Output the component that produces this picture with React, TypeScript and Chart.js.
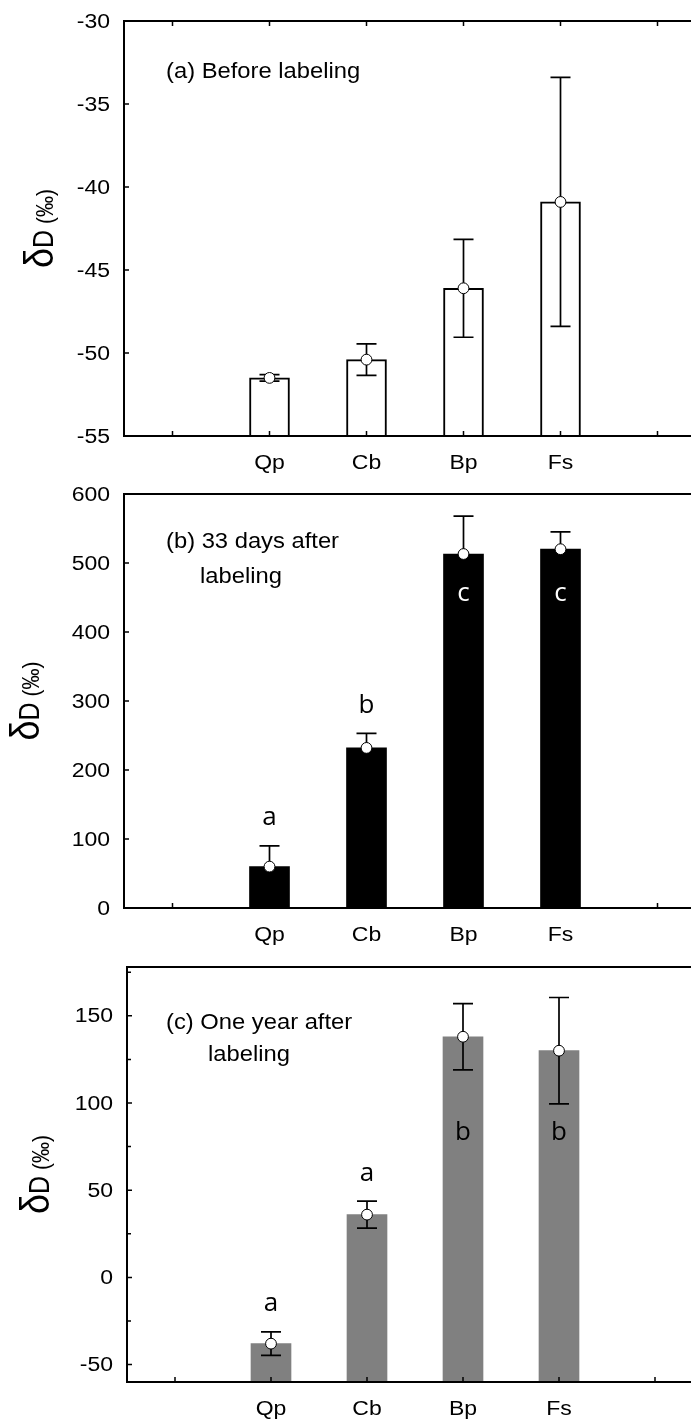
import React, { useEffect, useRef } from 'react';
import { Chart, registerables } from 'chart.js';

Chart.register(...registerables);

// ---------- data ----------
const categories = ['', 'Qp', 'Cb', 'Bp', 'Fs', ''];

const beforeMeans = [null, -51.5, -50.4, -46.1, -40.9, null];
const beforeErr = [null, 0.2, 0.95, 2.95, 7.5, null];
const beforeLetters = ['', '', '', '', '', ''];

const day33Means = [null, 60, 232, 513, 520, null];
const day33Err = [null, 30, 21, 55, 25, null];
const day33Letters = ['', 'a', 'b', 'c', 'c', ''];

const yearMeans = [null, -38, 36, 138, 130, null];
const yearErr = [null, 6.7, 7.7, 19, 30.5, null];
const yearLetters = ['', 'a', 'a', 'b', 'b', ''];

const titleA = ['(a) Before labeling'];
const titleB = ['(b) 33 days after', 'labeling'];
const titleC = ['(c) One year after', 'labeling'];

// ---------- styling ----------
const SANS = '"Liberation Sans", Arial, sans-serif';
const LETTER_FONT = '"Open Sans", sans-serif';
const STRETCH = 1.15;
const CANVAS_W = 698;

type Panel = {
  means: (number | null)[];
  errs: (number | null)[];
  letters: string[];
  title: string[];
  titleOffsets: [number, number][];
  min: number;
  max: number;
  step: number;
  minor?: number;
  fill: string;
  borderWidth: number;
  upperOnly: boolean;
  topTicks: boolean;
  insideAbove?: number;
  insideY?: number;
  absTop: number;
  chartTop: number;
  chartBottom: number;
  yWidth: number;
  slot: number;
  yTitleX: number;
};

const panels: Panel[] = [
  {
    means: beforeMeans, errs: beforeErr, letters: beforeLetters, title: titleA,
    titleOffsets: [[42, 51]],
    min: -55, max: -30, step: 5, fill: '#ffffff', borderWidth: 2, upperOnly: false, topTicks: true,
    absTop: 0, chartTop: 13, chartBottom: 428, yWidth: 116, slot: 97, yTitleX: 45,
  },
  {
    means: day33Means, errs: day33Err, letters: day33Letters, title: titleB,
    titleOffsets: [[42, 48], [76, 83]],
    min: 0, max: 600, step: 100, fill: '#000000', borderWidth: 0, upperOnly: true, topTicks: false,
    insideAbove: 400, insideY: 456,
    absTop: 468, chartTop: 18, chartBottom: 432, yWidth: 116, slot: 97, yTitleX: 31,
  },
  {
    means: yearMeans, errs: yearErr, letters: yearLetters, title: titleC,
    titleOffsets: [[39, 56], [81, 88]],
    min: -60, max: 178, step: 50, minor: 25, fill: '#808080', borderWidth: 0, upperOnly: false, topTicks: false,
    insideAbove: 100, insideY: 83,
    absTop: 940, chartTop: 19, chartBottom: 434, yWidth: 119, slot: 96, yTitleX: 41,
  },
];

function drawText(
  ctx: CanvasRenderingContext2D, text: string, x: number, y: number, font: string,
  align: CanvasTextAlign, baseline: CanvasTextBaseline, sx: number, color = '#000'
) {
  ctx.save();
  ctx.font = font;
  ctx.fillStyle = color;
  ctx.textAlign = align;
  ctx.textBaseline = baseline;
  ctx.translate(x, y);
  ctx.scale(sx, 1);
  ctx.fillText(text, 0, 0);
  ctx.restore();
}

function makePlugin(p: Panel) {
  return {
    id: 'panelDecor',
    afterDatasetsDraw(chart: any) {
      const ctx: CanvasRenderingContext2D = chart.ctx;
      const xs = chart.scales.x;
      const ys = chart.scales.y;
      ctx.save();
      p.means.forEach((m, i) => {
        if (m === null || m === undefined) return;
        const e = p.errs[i] ?? 0;
        const x = xs.getPixelForValue(i);
        const yM = ys.getPixelForValue(m);
        const yHi = ys.getPixelForValue(m + e);
        const yLo = ys.getPixelForValue(p.upperOnly ? m : m - e);
        ctx.strokeStyle = '#000';
        ctx.lineWidth = 1.7;
        ctx.beginPath();
        ctx.moveTo(x, yHi); ctx.lineTo(x, yLo);
        ctx.moveTo(x - 10, yHi); ctx.lineTo(x + 10, yHi);
        if (!p.upperOnly) { ctx.moveTo(x - 10, yLo); ctx.lineTo(x + 10, yLo); }
        ctx.stroke();
        ctx.beginPath();
        ctx.arc(x, yM, 5.4, 0, Math.PI * 2);
        ctx.fillStyle = '#fff';
        ctx.fill();
        ctx.lineWidth = 1;
        ctx.stroke();
        const letter = p.letters[i];
        if (letter) {
          const inside = p.insideAbove !== undefined && m > p.insideAbove;
          if (inside) {
            drawText(ctx, letter, x, ys.getPixelForValue(p.insideY as number), `26px ${LETTER_FONT}`, 'center', 'middle', 1,
              p.fill === '#000000' ? '#fff' : '#000');
          } else {
            drawText(ctx, letter, x, yHi - 28, `26px ${LETTER_FONT}`, 'center', 'middle', 1);
          }
        }
      });
      ctx.restore();
    },
    afterDraw(chart: any) {
      const ctx: CanvasRenderingContext2D = chart.ctx;
      const { left, right, top, bottom } = chart.chartArea;
      const xs = chart.scales.x;
      const ys = chart.scales.y;
      ctx.save();
      ctx.strokeStyle = '#000';
      ctx.lineWidth = 2;
      ctx.beginPath();
      ctx.moveTo(left, top); ctx.lineTo(right, top);
      ctx.moveTo(left, top - 1); ctx.lineTo(left, bottom + 1);
      ctx.moveTo(left - 1, bottom); ctx.lineTo(right, bottom);
      ctx.moveTo(right, top); ctx.lineTo(right, bottom);
      ctx.stroke();
      ctx.lineWidth = 1.5;
      ctx.beginPath();
      // x ticks (inward)
      xs.ticks.forEach((_t: any, i: number) => {
        const x = xs.getPixelForTick(i);
        ctx.moveTo(x, bottom); ctx.lineTo(x, bottom - 5);
        if (p.topTicks) { ctx.moveTo(x, top); ctx.lineTo(x, top + 5); }
      });
      // y ticks (inward)
      ys.ticks.forEach((t: any) => {
        const y = ys.getPixelForValue(t.value);
        ctx.moveTo(left, y); ctx.lineTo(left + 5, y);
      });
      if (p.minor) {
        for (let v = Math.ceil(p.min / p.minor) * p.minor; v <= p.max; v += p.minor) {
          if (Math.abs(v / p.step - Math.round(v / p.step)) < 1e-6) continue;
          const y = ys.getPixelForValue(v);
          ctx.moveTo(left, y); ctx.lineTo(left + 4, y);
        }
      }
      ctx.stroke();
      // tick labels
      ys.ticks.forEach((t: any) => {
        drawText(ctx, String(t.value), left - 14, ys.getPixelForValue(t.value) + 1, `20px ${SANS}`, 'right', 'middle', STRETCH);
      });
      xs.ticks.forEach((_t: any, i: number) => {
        const lab = categories[i];
        if (lab) drawText(ctx, lab, xs.getPixelForTick(i), bottom + 27, `20px ${SANS}`, 'center', 'middle', STRETCH);
      });
      // panel title
      p.title.forEach((line, k) => {
        const [dx, dy] = p.titleOffsets[k];
        drawText(ctx, line, left + dx, top + dy, `22px ${SANS}`, 'left', 'middle', 1.08);
      });
      // y-axis title  δD (‰)
      const cy = (top + bottom) / 2;
      ctx.translate(p.yTitleX, cy);
      ctx.rotate(-Math.PI / 2);
      ctx.scale(1, 1.15);
      ctx.fillStyle = '#000';
      ctx.textBaseline = 'alphabetic';
      ctx.textAlign = 'left';
      const parts: [string, string][] = [['δ', `36px ${SANS}`], ['D', `25px ${SANS}`], [' (‰)', `21px ${SANS}`]];
      let total = 0;
      parts.forEach(([s, f]) => { ctx.font = f; total += ctx.measureText(s).width; });
      let xPos = -total / 2;
      parts.forEach(([s, f]) => { ctx.font = f; ctx.fillText(s, xPos, 0); xPos += ctx.measureText(s).width; });
      ctx.restore();
    },
  };
}

function PanelChart({ p }: { p: Panel }) {
  const ref = useRef<HTMLCanvasElement | null>(null);
  const height = p.chartBottom + 40;
  useEffect(() => {
    if (!ref.current) return;
    const rightPad = CANVAS_W - p.yWidth - p.slot * categories.length;
    const chart = new Chart(ref.current, {
      type: 'bar',
      data: {
        labels: categories,
        datasets: [{
          data: p.means as any,
          backgroundColor: p.fill,
          borderColor: '#000',
          borderWidth: p.borderWidth,
          barThickness: 40,
          base: p.min,
        } as any],
      },
      options: {
        animation: false,
        responsive: false,
        maintainAspectRatio: false,
        devicePixelRatio: 1,
        layout: { padding: { top: p.chartTop, right: rightPad, left: 0, bottom: 0 } },
        plugins: { legend: { display: false }, tooltip: { enabled: false }, title: { display: false } },
        scales: {
          x: {
            type: 'category',
            offset: true,
            grid: { display: false, drawTicks: false },
            border: { display: false },
            ticks: { display: false },
            afterFit: (s: any) => { s.height = 40; },
          },
          y: {
            min: p.min,
            max: p.max,
            grid: { display: false, drawTicks: false },
            border: { display: false },
            ticks: { display: false, stepSize: p.step },
            afterFit: (s: any) => { s.width = p.yWidth; },
            afterBuildTicks: (s: any) => {
              s.ticks = s.ticks.filter((t: any) => Math.abs(t.value / p.step - Math.round(t.value / p.step)) < 1e-6);
            },
          },
        },
      } as any,
      plugins: [makePlugin(p)],
    });
    return () => chart.destroy();
  }, [p]);
  return (
    <div style={{ position: 'absolute', left: 0, top: p.absTop, width: 691, height, overflow: 'hidden' }}>
      <canvas ref={ref} width={CANVAS_W} height={height} style={{ display: 'block', width: CANVAS_W, height }} />
    </div>
  );
}

export default function App() {
  return (
    <div style={{ position: 'relative', width: 691, height: 1414, background: '#fff' }}>
      {panels.map((p, i) => <PanelChart key={i} p={p} />)}
    </div>
  );
}
